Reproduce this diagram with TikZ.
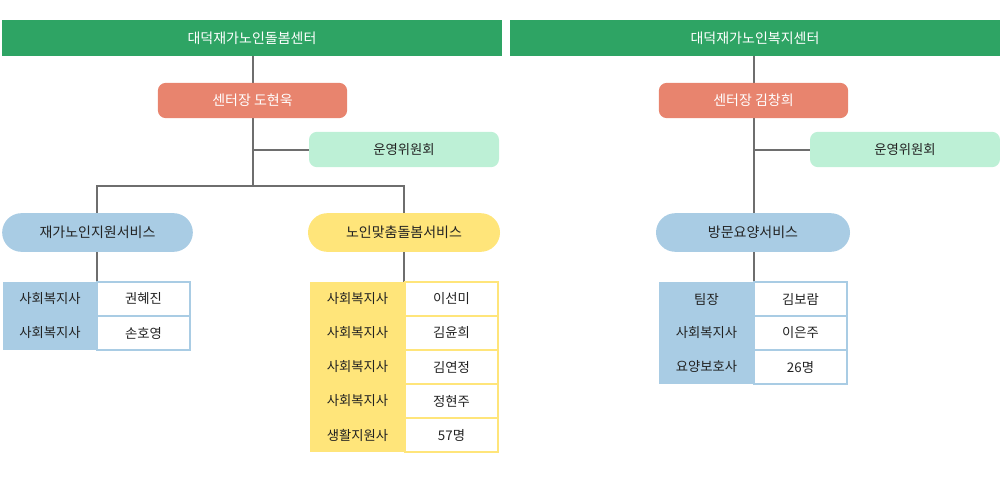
\documentclass[tikz,border=0pt]{standalone}
\usepackage{fontspec}
\setmainfont{Noto Sans CJK KR}
\definecolor{hgreen}{HTML}{2EA464}
\definecolor{salmon}{HTML}{E8846E}
\definecolor{mint}{HTML}{BDF0D6}
\definecolor{sblue}{HTML}{A9CCE4}
\definecolor{syel}{HTML}{FFE57A}
\definecolor{ink}{HTML}{222222}
\definecolor{lgray}{HTML}{6E6E6E}
\begin{document}
\begin{tikzpicture}[x=0.75pt,y=-0.75pt,
  txt/.style={font=\fontsize{10}{12}\selectfont, text=ink},
  head/.style={fill=hgreen, text=white, font=\fontsize{10.5}{12}\selectfont, inner sep=0},
  chief/.style={fill=salmon, text=white, rounded corners=6pt, font=\fontsize{10.5}{12}\selectfont, inner sep=0},
  comm/.style={fill=mint, text=ink, rounded corners=6pt, font=\fontsize{10}{12}\selectfont, inner sep=0},
  pill/.style={text=ink, rounded corners=14.5pt, font=\fontsize{10.5}{12}\selectfont, inner sep=0},
  conn/.style={draw=lgray, line width=1.4pt}]
\useasboundingbox (0,0) rectangle (1000,485);
% generic box macro via path picture
\newcommand{\bx}[6]{\path[#1] (#2,#3) rectangle (#4,#5) node[midway]{#6};}
% connectors
\coordinate (lt) at (253,56); \coordinate (lb) at (253,150); \coordinate (lc) at (253,186);
\coordinate (la) at (97,186); \coordinate (lbb) at (404,186);
\draw[conn] (lt) -- (lc); \draw[conn] (lb) -- (309,150);
\draw[conn] (97,213) -- (la) -- (lbb) -- (404,213);
\draw[conn] (97,252) -- (97,282); \draw[conn] (404,252) -- (404,282);
\draw[conn] (754,56) -- (754,213); \draw[conn] (754,150) -- (810,150);
\draw[conn] (754,252) -- (754,282);
% headers
\node[head, minimum width=375pt, minimum height=27pt] (h1) at (252,38) {대덕재가노인돌봄센터};
\node[head, minimum width=367.5pt, minimum height=27pt] (h2) at (755,38) {대덕재가노인복지센터};
\node[chief, minimum width=142pt, minimum height=26.5pt] (c1) at (252.5,100.5) {센터장 도현욱};
\node[chief, minimum width=142pt, minimum height=26.5pt] (c2) at (753.5,100.5) {센터장 김창희};
\node[comm, minimum width=142.5pt, minimum height=26.5pt] (m1) at (404,149.5) {운영위원회};
\node[comm, minimum width=142.5pt, minimum height=26.5pt] (m2) at (905,149.5) {운영위원회};
\node[pill, fill=sblue, minimum width=143pt, minimum height=29pt] (p1) at (97.5,232.5) {재가노인지원서비스};
\node[pill, fill=syel, minimum width=144pt, minimum height=29pt] (p2) at (404,232.5) {노인맞춤돌봄서비스};
\node[pill, fill=sblue, minimum width=145.5pt, minimum height=29pt] (p3) at (753,232.5) {방문요양서비스};
% tables
\newcommand{\trow}[7]{% col, xl, xm, xr, ytop, label, value
  \fill[#1] (#2,#5) rectangle (#3,#5+34);
  \node[txt] at ({(#2+#3)/2},#5+17) {#6};
  \draw[#1, line width=1.5pt, fill=white] (#3,#5) rectangle (#4,#5+34);
  \node[txt] at ({(#3+#4)/2},#5+17) {#7};}
\trow{sblue}{3}{97}{190}{282}{사회복지사}{권혜진}
\trow{sblue}{3}{97}{190}{316}{사회복지사}{손호영}
\trow{syel}{310}{405}{498}{282}{사회복지사}{이선미}
\trow{syel}{310}{405}{498}{316}{사회복지사}{김윤희}
\trow{syel}{310}{405}{498}{350}{사회복지사}{김연정}
\trow{syel}{310}{405}{498}{384}{사회복지사}{정현주}
\trow{syel}{310}{405}{498}{418}{생활지원사}{57명}
\trow{sblue}{659}{754}{847}{282}{팀장}{김보람}
\trow{sblue}{659}{754}{847}{316}{사회복지사}{이은주}
\trow{sblue}{659}{754}{847}{350}{요양보호사}{26명}
\end{tikzpicture}
\end{document}
